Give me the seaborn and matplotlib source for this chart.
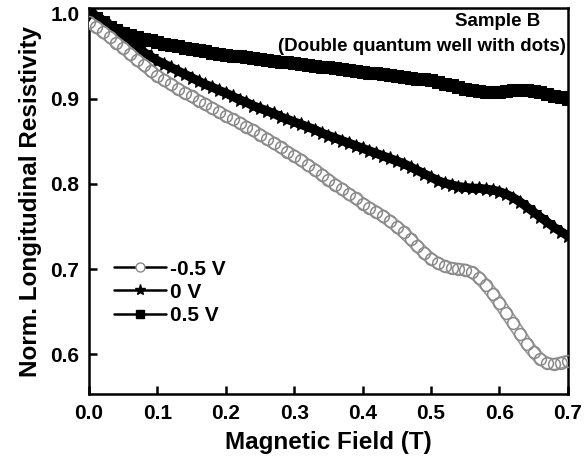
import numpy as np
import pandas as pd
import matplotlib
matplotlib.use("Agg")
import matplotlib.pyplot as plt
from matplotlib.lines import Line2D
import seaborn as sns

field = np.round(np.arange(0, 0.701, 0.01), 2)

# -0.5 V, open circles
rho_neg = [0.990, 0.985, 0.979, 0.973, 0.966, 0.960, 0.953, 0.946, 0.940, 0.933,
           0.927, 0.922, 0.917, 0.912, 0.907, 0.903, 0.898, 0.894, 0.889, 0.885,
           0.880, 0.876, 0.872, 0.867, 0.863, 0.858, 0.853, 0.848, 0.843, 0.838,
           0.833, 0.828, 0.822, 0.817, 0.811, 0.805, 0.799, 0.794, 0.788, 0.783,
           0.777, 0.772, 0.767, 0.762, 0.756, 0.750, 0.743, 0.735, 0.727, 0.719,
           0.712, 0.707, 0.703, 0.701, 0.700, 0.699, 0.696, 0.690, 0.681, 0.671,
           0.660, 0.648, 0.636, 0.624, 0.612, 0.602, 0.594, 0.589, 0.588, 0.590,
           0.592]

# 0 V, stars
rho_zero = [1.000, 0.996, 0.991, 0.986, 0.980, 0.974, 0.967, 0.961, 0.955, 0.950,
            0.945, 0.941, 0.937, 0.933, 0.929, 0.925, 0.921, 0.917, 0.914, 0.910,
            0.907, 0.903, 0.899, 0.896, 0.892, 0.889, 0.886, 0.883, 0.879, 0.876,
            0.873, 0.870, 0.867, 0.864, 0.860, 0.857, 0.854, 0.851, 0.848, 0.845,
            0.842, 0.839, 0.836, 0.833, 0.830, 0.827, 0.824, 0.820, 0.816, 0.812,
            0.808, 0.804, 0.801, 0.799, 0.797, 0.796, 0.795, 0.795, 0.794, 0.793,
            0.791, 0.788, 0.784, 0.779, 0.773, 0.767, 0.761, 0.755, 0.749, 0.744,
            0.739]

# 0.5 V, squares
rho_pos = [1.000, 0.995, 0.990, 0.985, 0.981, 0.978, 0.975, 0.973, 0.971, 0.969,
           0.967, 0.965, 0.963, 0.962, 0.960, 0.959, 0.957, 0.956, 0.954, 0.953,
           0.952, 0.951, 0.950, 0.949, 0.948, 0.947, 0.946, 0.945, 0.944, 0.943,
           0.942, 0.941, 0.940, 0.939, 0.938, 0.937, 0.936, 0.935, 0.934, 0.933,
           0.932, 0.931, 0.930, 0.929, 0.928, 0.927, 0.926, 0.925, 0.924, 0.923,
           0.922, 0.920, 0.918, 0.916, 0.914, 0.912, 0.910, 0.909, 0.908, 0.908,
           0.908, 0.909, 0.910, 0.910, 0.910, 0.909, 0.908, 0.906, 0.904, 0.902,
           0.900]

labels = ["-0.5 V", "0 V", "0.5 V"]

sns.set_style("ticks", {"axes.edgecolor": "black", "text.color": "black",
                        "axes.labelcolor": "black", "xtick.color": "black",
                        "ytick.color": "black"})
plt.rcParams["font.family"] = ["Liberation Sans", "DejaVu Sans"]
plt.rcParams["font.weight"] = "bold"

fig = plt.figure(figsize=(5.86, 4.68), dpi=100)
ax = fig.add_axes([0.152, 0.158, 0.817, 0.825])

df = pd.DataFrame({"B": field, "neg": rho_neg, "zero": rho_zero, "pos": rho_pos})

# 0.5 V: solid band of squares
ax.plot(df["B"], df["pos"], color="black", lw=8, solid_capstyle="butt", zorder=2)
sns.lineplot(data=df, x="B", y="pos", ax=ax, color="black", linestyle="",
             marker="s", markersize=8, mec="black", mfc="black", zorder=3)

# 0 V: stars
ax.plot(df["B"], df["zero"], color="black", lw=6.5, solid_capstyle="butt", zorder=2)
sns.lineplot(data=df, x="B", y="zero", ax=ax, color="black", linestyle="",
             marker="*", markersize=10, mec="black", mfc="black", zorder=3)

# -0.5 V: band of overlapping open gray circles
ax.plot(df["B"], df["neg"], color="#9a9a9a", lw=9, solid_capstyle="butt", zorder=4)
ax.plot(df["B"], df["neg"], color="white", lw=6.5, solid_capstyle="butt", zorder=4)
sns.lineplot(data=df, x="B", y="neg", ax=ax, color="#888888", linestyle="",
             marker="o", markersize=8.5, mec="#8a8a8a", mfc="none", mew=1.1, zorder=5)

ax.set_xlim(0, 0.7)
ax.set_ylim(0.553, 1.007)
ax.set_xticks(np.arange(0, 0.71, 0.1))
ax.set_yticks([0.6, 0.7, 0.8, 0.9, 1.0])
ax.xaxis.set_major_formatter(matplotlib.ticker.FormatStrFormatter("%.1f"))
ax.yaxis.set_major_formatter(matplotlib.ticker.FormatStrFormatter("%.1f"))
ax.tick_params(direction="in", length=6, width=1.8, labelsize=15, pad=7,
               top=False, right=False, colors="black")
for lab in ax.get_xticklabels() + ax.get_yticklabels():
    lab.set_fontweight("bold")
for s in ax.spines.values():
    s.set_linewidth(1.8)
    s.set_color("black")
    s.set_visible(True)

ax.set_xlabel("Magnetic Field (T)", fontsize=17.5, fontweight="bold", labelpad=6, color="black")
ax.set_ylabel("Norm. Longitudinal Resistivity", fontsize=17.5, fontweight="bold",
              labelpad=6, color="black")

ax.text(0.597, 0.991, "Sample B", fontsize=13.5, fontweight="bold", ha="center",
        va="center", color="black")
ax.text(0.486, 0.962, "(Double quantum well with dots)", fontsize=13.5, fontweight="bold",
        ha="center", va="center", color="black")

handles = [
    Line2D([], [], color="black", lw=1.8, marker="o", markersize=6.5, mfc="white", mec="#888888"),
    Line2D([], [], color="black", lw=1.8, marker="*", markersize=8, mfc="black", mec="black"),
    Line2D([], [], color="black", lw=1.8, marker="s", markersize=6, mfc="black", mec="black"),
]
leg = ax.legend(handles, labels, loc="upper left", bbox_to_anchor=(0.035, 0.37), frameon=False,
                prop={"size": 15, "weight": "bold"}, handlelength=2.5, handletextpad=0.2,
                labelspacing=0.2, borderaxespad=0)
for t in leg.get_texts():
    t.set_color("black")

fig.savefig("out.png", dpi=100)
